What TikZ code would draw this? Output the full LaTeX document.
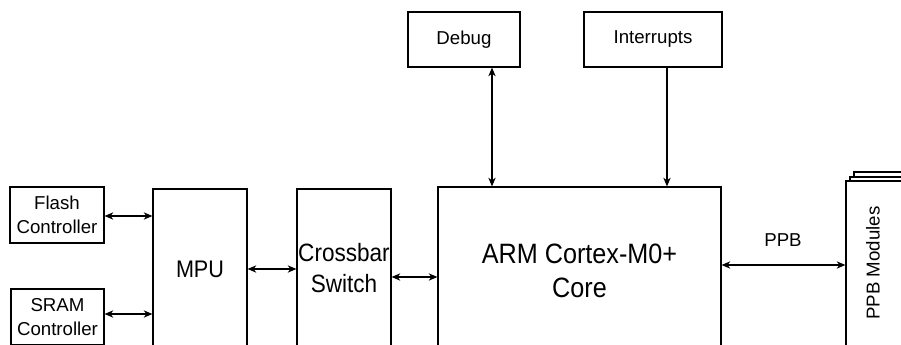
\documentclass[tikz,border=0pt]{standalone}
\usepackage{fontspec}
\setmainfont{Liberation Sans}
\newfontfamily\bigfont[FakeStretch=0.9]{Liberation Sans}
\usetikzlibrary{arrows.meta,fit,calc}
\begin{document}
\begin{tikzpicture}[x=0.75pt,y=-0.75pt,
  box/.style={draw, line width=0.9pt, inner sep=0pt, fill=white},
  small/.style={font=\fontsize{14}{18}\selectfont, align=center},
  big/.style={font=\bigfont\fontsize{18}{23}\selectfont, align=center},
  tip/.tip={Stealth[length=6.5pt,width=5.5pt,inset=2pt]},
  link/.style={line width=0.9pt, tip-tip},
  one/.style={line width=0.9pt, -tip}]
\clip (0,0) rectangle (901,345);
\fill[white] (0,0) rectangle (901,345);
% boxes
\node[box, fit={(10,187) (104,243)}] (flash) {};
\node[box, fit={(11,289) (104,345)}] (sram) {};
\node[box, fit={(153,189) (247,370)}] (mpu) {};
\node[box, fit={(297,189) (391,370)}] (xbar) {};
\node[box, fit={(438,187) (721,370)}] (core) {};
\node[box, fit={(408,12) (520,67)}] (debug) {};
\node[box, fit={(584,12) (722,67)}] (intr) {};
\node[box, fit={(854,172) (960,370)}] (ppb3) {};
\node[box, fit={(850,177) (960,370)}] (ppb2) {};
\node[box, fit={(846,181) (960,370)}] (ppb) {};
% texts
\node[small] (flashtext) at (flash.center) {Flash\\Controller};
\node[small] (sramtext) at (sram.center) {SRAM\\Controller};
\node[small] (debugtext) at (debug.center) {Debug};
\node[small] (intrtext) at (intr.center) {Interrupts};
\node[big] (mputext) at (200,269) {MPU};
\node[big, font=\bigfont\fontsize{18.8}{23.5}\selectfont] (xbartext) at (344,268) {Crossbar\\Switch};
\node[big, font=\bigfont\fontsize{21}{26}\selectfont] (coretext) at (579.5,271) {ARM Cortex-M0+\\Core};
\node[small] (ppblabel) at (783,240) {PPB};
\node[small, rotate=90] (ppbtext) at (873,263) {PPB Modules};
% connectors
\draw[link] (flash.east |- 0,216) -- (mpu.west |- 0,216);
\draw[link] (sram.east |- 0,314) -- (mpu.west |- 0,314);
\draw[link] (mpu.east |- mputext) -- (xbar.west |- mputext);
\draw[link] (xbar.east |- 0,277) -- (core.west |- 0,277);
\draw[link] (core.east |- 0,265) -- (ppb.west |- 0,265);
\draw[link] (debug.south -| 492,0) -- (core.north -| 492,0);
\draw[one] (intr.south -| 667,0) -- (core.north -| 667,0);
\end{tikzpicture}
\end{document}
